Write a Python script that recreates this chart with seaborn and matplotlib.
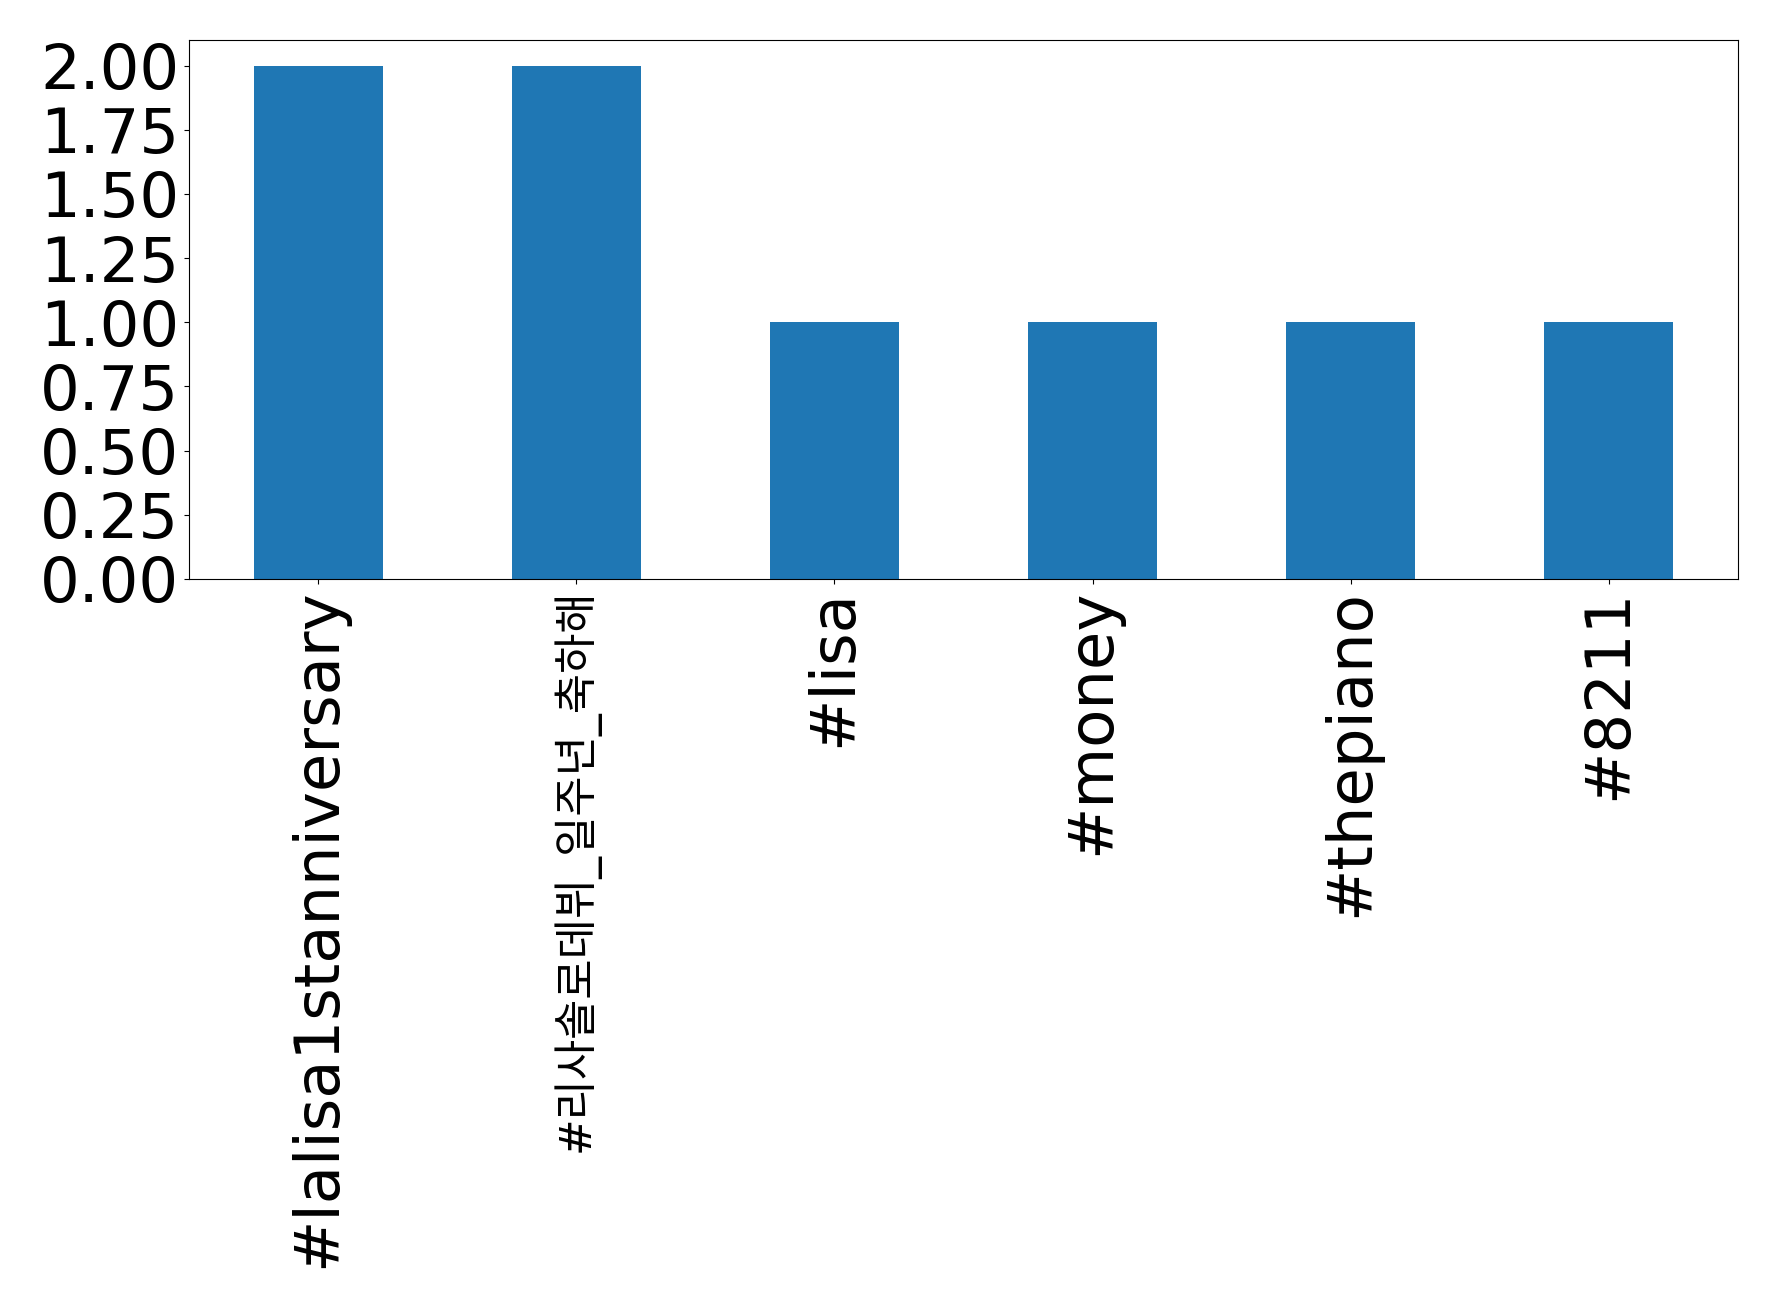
import matplotlib
matplotlib.use("Agg")
import matplotlib.pyplot as plt
import seaborn as sns
import pandas as pd
from matplotlib.ticker import MultipleLocator, FormatStrFormatter

# hashtag counts
hashtags = ["#lalisa1stanniversary", "#리사솔로데뷔_일주년_축하해", "#lisa", "#money", "#thepiano", "#8211"]
counts = [2, 2, 1, 1, 1, 1]

df = pd.DataFrame({"hashtag": hashtags, "count": counts})

plt.rcParams['font.family'] = ['DejaVu Sans', 'Noto Sans CJK KR']

fig, ax = plt.subplots(figsize=(17.78, 13.08), dpi=100)
fig.subplots_adjust(left=189 / 1778, right=1738 / 1778, top=1 - 40 / 1308, bottom=1 - 579 / 1308)

sns.barplot(data=df, x="hashtag", y="count", color="#1f77b4", saturation=1, width=0.5, ax=ax)

ax.set_xlim(-0.5, len(hashtags) - 0.5)
ax.set_ylim(0, 2.1)
ax.yaxis.set_major_locator(MultipleLocator(0.25))
ax.yaxis.set_major_formatter(FormatStrFormatter("%.2f"))
ax.set_xlabel("")
ax.set_ylabel("")
ax.tick_params(axis="both", labelsize=45)
plt.setp(ax.get_xticklabels(), rotation=90)

# the korean tag is wider in a CJK font, shrink it to the same footprint
for lbl in ax.get_xticklabels():
    if not lbl.get_text().isascii():
        lbl.set_fontsize(31.5)

fig.savefig("out.png", dpi=100)
